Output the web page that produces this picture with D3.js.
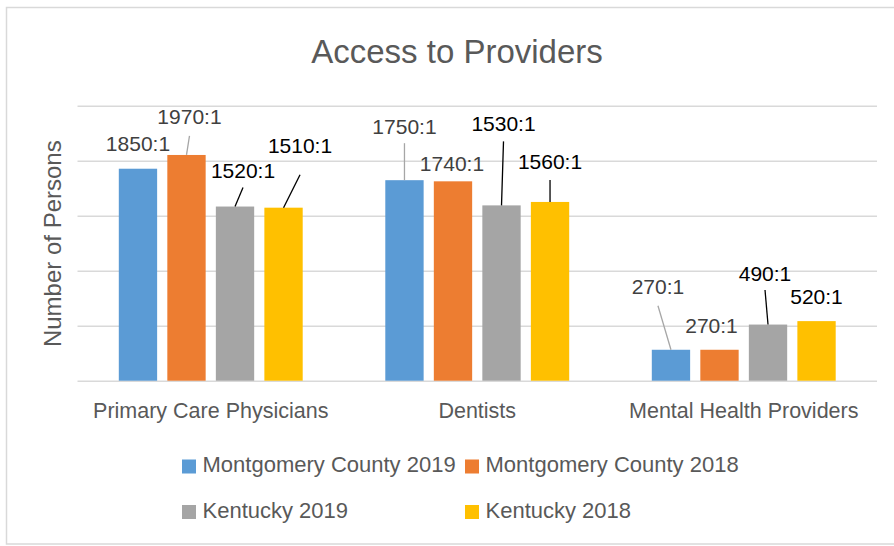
<!DOCTYPE html>
<html>
<head>
<meta charset="utf-8">
<script src="https://cdn.jsdelivr.net/npm/d3@7"></script>
<style>
  html, body { margin: 0; padding: 0; background: #fff; }
  svg { display: block; font-family: "Liberation Sans", Arial, sans-serif; }
</style>
</head>
<body>
<svg id="chart" width="894" height="546"></svg>
<script>
// ---- data ----
const categories = ["Primary Care Physicians", "Dentists", "Mental Health Providers"];
const seriesNames = ["Montgomery County 2019", "Montgomery County 2018", "Kentucky 2019", "Kentucky 2018"];
const montgomery2019 = [1850, 1750, 270];
const montgomery2018 = [1970, 1740, 270];
const kentucky2019 = [1520, 1530, 490];
const kentucky2018 = [1510, 1560, 520];
const yTicks = [0, 480, 960, 1440, 1920, 2400];
const chartTitle = "Access to Providers";
const yAxisTitle = "Number of Persons";

// ---- styling / layout (not data) ----
const colors = ["#5b9bd5", "#ed7d31", "#a5a5a5", "#ffc000"];
const labelColors = ["#404040", "#404040", "#000000", "#000000"];
const leaderColors = ["#a6a6a6", "#a6a6a6", "#000000", "#000000"];
// label placement offsets relative to bar top center: [dx, dy, leaderGap (0 = no leader)]
const labelOffsets = [
  [[0, -25, 0], [0, -54, 17], [-13, -63, 19]],
  [[3, -38, 19], [-1, -18, 0], [-8, -24.5, 0]],
  [[8, -36, 17], [2, -82, 18], [-3, -51, 16.5]],
  [[16.5, -62, 29], [0, -40, 18], [0, -24.5, 0]]
];

const seriesValues = [montgomery2019, montgomery2018, kentucky2019, kentucky2018];

const svg = d3.select("#chart");

// chart border
svg.append("rect")
  .attr("x", 6.5).attr("y", 7.5)
  .attr("width", 890).attr("height", 536.5)
  .attr("fill", "#fff")
  .attr("stroke", "#d9d9d9").attr("stroke-width", 1.5);

const plot = { left: 77.5, right: 877, top: 105.7, bottom: 380.7 };

const x = d3.scaleBand().domain(categories).range([plot.left, plot.right]).padding(0);
const groupPad = 41.3;
const xs = d3.scaleBand().domain(d3.range(seriesNames.length))
  .range([groupPad, x.bandwidth() - groupPad]).paddingInner(0.21).paddingOuter(0);
const y = d3.scaleLinear().domain([0, 2400]).range([plot.bottom, plot.top]);

// gridlines
const grid = svg.append("g").attr("transform", `translate(${plot.left},0)`)
  .call(d3.axisLeft(y).tickValues(yTicks).tickSize(-(plot.right - plot.left)).tickFormat(""));
grid.select(".domain").remove();
grid.selectAll(".tick line").attr("stroke", "#d9d9d9").attr("stroke-width", 1.5);

// bars
const rows = [];
seriesValues.forEach((vals, s) => {
  vals.forEach((v, c) => rows.push({ s, c, v }));
});

svg.append("g").selectAll("rect").data(rows).join("rect")
  .attr("x", d => x(categories[d.c]) + xs(d.s))
  .attr("width", xs.bandwidth())
  .attr("y", d => y(d.v))
  .attr("height", d => y(0) - y(d.v))
  .attr("fill", d => colors[d.s]);

// data labels + leader lines
const lbl = svg.append("g");
rows.forEach(d => {
  const bx = x(categories[d.c]) + xs(d.s) + xs.bandwidth() / 2;
  const by = y(d.v);
  const [dx, dy, gap] = labelOffsets[d.s][d.c];
  const lx = bx + dx, ly = by + dy;
  if (gap > 0) {
    lbl.append("line")
      .attr("x1", lx).attr("y1", ly + gap)
      .attr("x2", bx).attr("y2", by)
      .attr("stroke", leaderColors[d.s]).attr("stroke-width", 1.3);
  }
  lbl.append("text")
    .attr("x", lx).attr("y", ly + 7.4)
    .attr("text-anchor", "middle")
    .attr("font-size", 21)
    .attr("fill", labelColors[d.s])
    .text(d.v + ":1");
});

// category axis
const xAxis = svg.append("g").attr("transform", `translate(0,${plot.bottom})`)
  .call(d3.axisBottom(x).tickSize(0));
xAxis.select(".domain").remove();
xAxis.selectAll(".tick text")
  .attr("y", 418.5 - plot.bottom).attr("dy", 0)
  .attr("font-size", 21.5).attr("fill", "#595959")
  .attr("font-family", "'Liberation Sans', Arial, sans-serif");

// title
svg.append("text")
  .attr("x", 457).attr("y", 63)
  .attr("text-anchor", "middle")
  .attr("font-size", 33).attr("fill", "#595959")
  .text(chartTitle);

// y axis title
svg.append("text")
  .attr("transform", "translate(61,243.7) rotate(-90)")
  .attr("text-anchor", "middle")
  .attr("font-size", 24).attr("fill", "#595959")
  .text(yAxisTitle);

// legend
const legendPos = [[182, 459.5], [465, 459.5], [182, 505], [465, 505]];
const leg = svg.append("g");
seriesNames.forEach((name, i) => {
  const [lx, ly] = legendPos[i];
  leg.append("rect").attr("x", lx).attr("y", ly).attr("width", 14).attr("height", 14)
    .attr("fill", colors[i]);
  leg.append("text").attr("x", lx + 20.5).attr("y", ly + 12.8)
    .attr("font-size", 22).attr("fill", "#595959")
    .text(name);
});
</script>
</body>
</html>
